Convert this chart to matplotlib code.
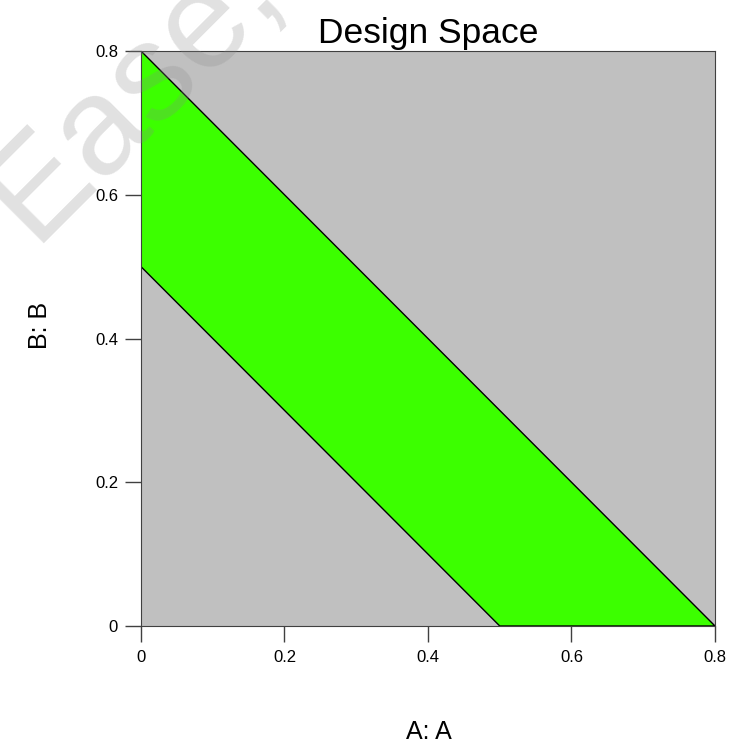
import matplotlib
matplotlib.use('Agg')
from matplotlib import pyplot as plt

# design space region (A, B)
region_a = [0.0, 0.0, 0.8, 0.5]
region_b = [0.5, 0.8, 0.0, 0.0]
ticks = [0, 0.2, 0.4, 0.6, 0.8]
tick_labels = ['0', '0.2', '0.4', '0.6', '0.8']

plt.rcParams['font.family'] = ['Liberation Sans', 'DejaVu Sans']

fig = plt.figure(figsize=(7.29, 7.47), dpi=100)
ax = fig.add_axes([0.1934, 0.162, 0.7874, 0.7697])
ax.set_facecolor('#C0C0C0')
ax.fill(region_a, region_b, facecolor='#3CFF00', edgecolor='black', linewidth=1.0)
ax.set_xlim(0, 0.8)
ax.set_ylim(0, 0.8)
ax.set_xticks(ticks)
ax.set_xticklabels(tick_labels)
ax.set_yticks(ticks)
ax.set_yticklabels(tick_labels)
ax.tick_params(direction='out', length=11.5, width=1, color='#404040', labelsize=12)
ax.tick_params(axis='x', pad=6)
ax.tick_params(axis='y', pad=5)
for s in ax.spines.values():
    s.set_color('#404040')

ax.set_title('Design Space', fontsize=25.5, pad=6)
fig.text(0.588, 0.004, 'A: A', fontsize=18, ha='center', va='bottom')
fig.text(0.055, 0.565, 'B: B', fontsize=18, ha='center', va='center', rotation=90)

fig.text(0.045, 0.675, 'Ease,', fontsize=100, color='#888888', alpha=0.25,
         rotation=45, rotation_mode='anchor', ha='left', va='baseline', zorder=10)

fig.savefig('out.png', dpi=100)
